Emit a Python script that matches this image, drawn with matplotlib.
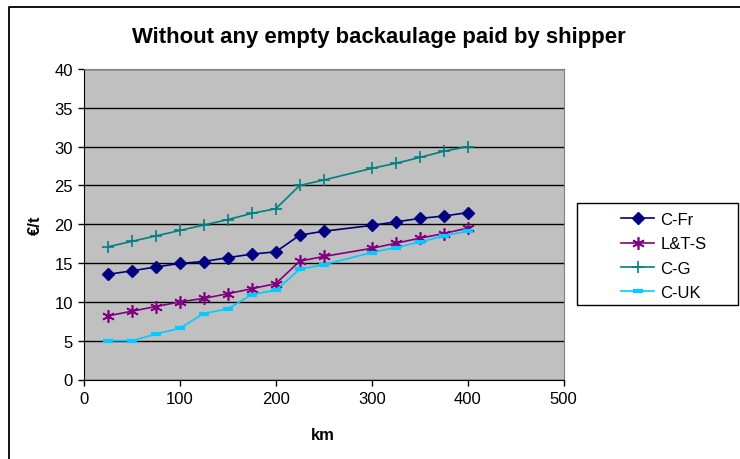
import numpy as np
import matplotlib.pyplot as plt
from matplotlib.patches import Rectangle
from matplotlib.lines import Line2D

plt.rcParams['font.family'] = ['Liberation Sans', 'DejaVu Sans']

km = [25, 50, 75, 100, 125, 150, 175, 200, 225, 250, 300, 325, 350, 375, 400]
c_fr = [13.55, 14.0, 14.5, 14.95, 15.2, 15.7, 16.15, 16.45, 18.6, 19.1, 19.85, 20.3, 20.75, 21.05, 21.5]
lt_s = [8.2, 8.8, 9.4, 10.0, 10.45, 11.05, 11.7, 12.35, 15.25, 15.85, 16.9, 17.55, 18.2, 18.8, 19.5]
c_g = [17.1, 17.8, 18.5, 19.2, 19.9, 20.6, 21.4, 22.0, 25.0, 25.7, 27.2, 27.85, 28.6, 29.4, 30.0]
c_uk = [5.0, 5.0, 5.85, 6.6, 8.5, 9.1, 10.95, 11.5, 14.2, 14.8, 16.35, 17.0, 17.7, 18.5, 19.1]

fig = plt.figure(figsize=(7.4, 4.6), dpi=100)
W, H = 740, 460
ax = fig.add_axes([84 / W, 1 - 380.5 / H, (563.5 - 84) / W, (380.5 - 70) / H])

# chart border (only left and top visible, cropped image)
fig.lines.append(Line2D([8.5 / W, 8.5 / W, 1], [0, 1 - 7.5 / H, 1 - 7.5 / H],
                        transform=fig.transFigure, color='black', linewidth=1.3))
# legend box
fig.patches.append(Rectangle((577 / W, 1 - 305.5 / H), 161 / W, 101.5 / H, transform=fig.transFigure,
                             fill=False, edgecolor='black', linewidth=1))

ax.set_facecolor('#C0C0C0')
ax.set_xlim(0, 500)
ax.set_ylim(0, 40)
ax.set_xticks(np.arange(0, 501, 100))
ax.set_yticks(np.arange(0, 41, 5))
ax.yaxis.grid(True, color='black', linewidth=1)
ax.set_axisbelow(True)
for s in ['top', 'right']:
    ax.spines[s].set_color('#808080')
for s in ['left', 'bottom']:
    ax.spines[s].set_color('black')
ax.tick_params(direction='out', length=4, width=1, labelsize=12, pad=4)

ax.plot(km, c_fr, color='#000080', marker='D', markersize=6, linewidth=1.2, label='C-Fr')
ax.plot(km, lt_s, color='#800080', marker=(6, 2, 0), markersize=9, markeredgewidth=1.2,
        linewidth=1.2, label='L&T-S')
ax.plot(km, c_g, color='#008080', marker='+', markersize=9, markeredgewidth=1.2,
        linewidth=1.2, label='C-G')
ax.plot(km, c_uk, color='#00CCFF', marker='_', markersize=7, markeredgewidth=3,
        linewidth=1.2, label='C-UK')

fig.text(379 / W, 1 - 37 / H, 'Without any empty backaulage paid by shipper',
         ha='center', va='center', fontsize=15.9, fontweight='bold')
fig.text(35 / W, 1 - 225 / H, '€/t', rotation=90, ha='center', va='center',
         fontsize=12, fontweight='bold')
fig.text(323 / W, 1 - 436 / H, 'km', ha='center', va='center', fontsize=12, fontweight='bold')

leg = ax.legend(loc='upper left', bbox_to_anchor=(621 / W, 1 - 213 / H),
                bbox_transform=fig.transFigure, frameon=False, fontsize=12,
                handlelength=2.0, handletextpad=0.35, borderpad=0,
                labelspacing=0.56, borderaxespad=0)

fig.savefig('out.png', dpi=100)
